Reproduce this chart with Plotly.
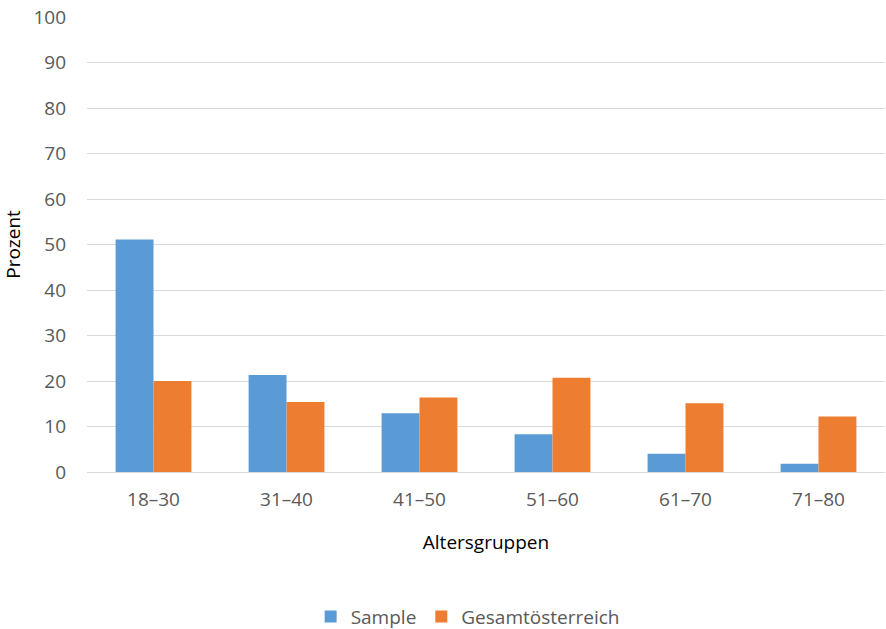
import plotly.graph_objects as go

# Altersgruppen und Anteile (Prozent)
categories = ["18–30", "31–40", "41–50", "51–60", "61–70", "71–80"]
sample = [51.1, 21.3, 12.9, 8.3, 4.0, 1.8]
gesamt = [20.0, 15.4, 16.4, 20.7, 15.1, 12.2]
y_ticks = [0, 10, 20, 30, 40, 50, 60, 70, 80, 90, 100]

FONT = "'Open Sans', sans-serif"
GREY = "#595959"
SIZE = 19

fig = go.Figure()
fig.add_trace(go.Bar(name="Sample", x=categories, y=sample,
                     marker=dict(color="#5B9BD5", line=dict(width=0))))
fig.add_trace(go.Bar(name="Gesamtösterreich", x=categories, y=gesamt,
                     marker=dict(color="#ED7D31", line=dict(width=0))))

fig.update_layout(
    width=886, height=629,
    margin=dict(l=87, r=1, t=17, b=157, autoexpand=False),
    paper_bgcolor="white", plot_bgcolor="white",
    barmode="group", bargap=0.43, bargroupgap=0,
    font=dict(family=FONT, size=SIZE, color=GREY),
    showlegend=True,
    legend=dict(orientation="h", x=0.477, xanchor="center", y=-0.318, yanchor="middle",
                font=dict(family=FONT, size=SIZE, color=GREY),
                itemwidth=30, traceorder="normal"),
    xaxis=dict(
        title=dict(text="Altersgruppen", font=dict(family=FONT, size=SIZE, color="black"), standoff=24),
        showgrid=False, showline=False, ticks="", automargin=False,
        tickfont=dict(family=FONT, size=SIZE, color=GREY),
        ticklabelstandoff=14,
    ),
    yaxis=dict(
        title=dict(text="Prozent", font=dict(family=FONT, size=SIZE, color="black"), standoff=26),
        range=[0, 100], tickvals=y_ticks, automargin=False,
        showgrid=True, gridcolor="#D9D9D9", gridwidth=1,
        zeroline=True, zerolinecolor="#D9D9D9", zerolinewidth=1,
        showline=False, ticks="",
        tickfont=dict(family=FONT, size=SIZE, color=GREY),
        ticklabelstandoff=20,
    ),
)

fig.write_html("out.html")
